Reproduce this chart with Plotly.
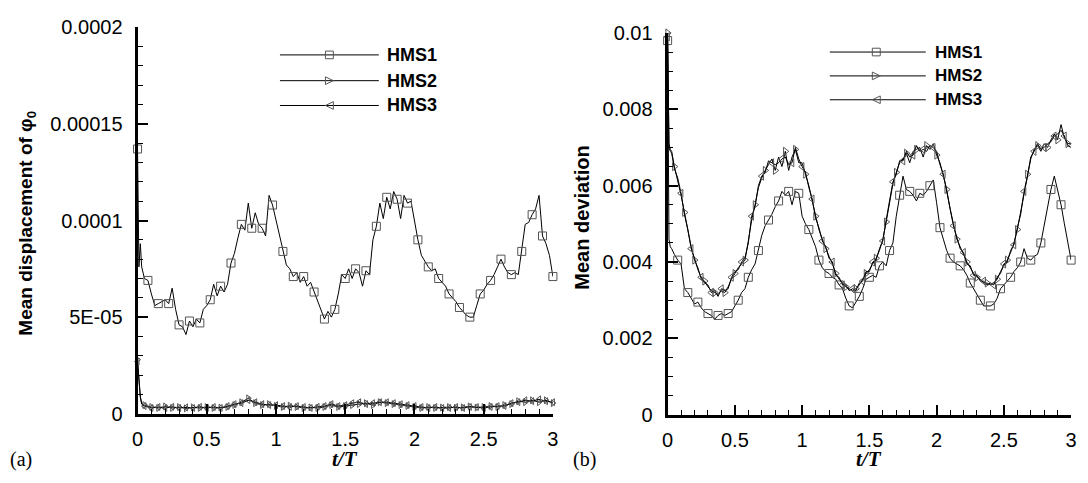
import plotly.graph_objects as go

W, H = 1088, 483

# Sampling times (t/T)
t_fine = [0, 0.005, 0.01, 0.02, 0.03] + [round(0.05 + 0.025 * i, 3) for i in range(119)]
t_coarse = [0, 0.01, 0.02, 0.03] + [round(0.05 + 0.05 * i, 3) for i in range(60)]

# (a) mean displacement of phi_0, in units of 1e-5
disp_hms1 = [13.7, 9.0, 7.6, 8.8, 7.6,
             7.0, 6.9, 6.2, 5.6, 5.7, 5.8, 5.9, 5.7, 6.5, 5.4, 4.6, 4.5, 4.1, 4.8, 4.5, 4.9,
             4.7, 5.4, 5.6, 5.9, 6.7, 6.1, 6.6, 6.3, 6.7, 7.8, 8.3, 9.1, 9.8, 9.5, 10.9, 9.6,
             10.4, 9.8, 9.6, 9.2, 11.3, 10.8, 10.0, 9.2, 8.4, 7.7, 7.5, 7.1, 7.3, 6.8, 7.1, 6.6,
             6.8, 6.3, 5.9, 5.3, 4.9, 5.3, 5.0, 5.4, 6.2, 7.2, 7.0, 7.5, 7.0, 7.5, 7.3, 6.6,
             7.4, 7.2, 9.0, 9.7, 10.9, 10.1, 11.2, 10.6, 11.5, 11.1, 10.1, 11.3, 10.9, 11.0, 9.9,
             9.0, 8.2, 7.9, 7.6, 7.4, 7.5, 7.0, 6.8, 6.6, 6.2, 6.0, 5.8, 5.5, 5.3, 5.1, 5.0,
             5.0, 5.6, 6.2, 6.4, 6.7, 6.9, 7.2, 7.6, 8.0, 7.6, 7.3, 7.2, 7.3, 7.2, 8.4, 9.8,
             9.9, 10.3, 10.6, 11.3, 9.2, 8.8, 8.2, 7.1]
disp_hms2 = [2.8, 1.6, 0.9, 0.55,
             0.45, 0.35, 0.3, 0.38, 0.3, 0.35, 0.28, 0.33, 0.3, 0.35, 0.3, 0.32, 0.35, 0.45,
             0.6, 0.8, 0.55, 0.45, 0.5, 0.4, 0.35, 0.42, 0.35, 0.3, 0.33, 0.3, 0.35, 0.45, 0.35,
             0.4, 0.45, 0.5, 0.55, 0.45, 0.6, 0.55, 0.5, 0.45, 0.4, 0.35, 0.3, 0.35, 0.3, 0.32,
             0.35, 0.3, 0.33, 0.38, 0.32, 0.35, 0.4, 0.35, 0.45, 0.5, 0.65, 0.6, 0.7, 0.6, 0.7,
             0.55]
disp_hms3 = [2.7, 1.5, 0.85, 0.5,
             0.4, 0.3, 0.35, 0.3, 0.36, 0.3, 0.33, 0.3, 0.36, 0.3, 0.35, 0.3, 0.4, 0.5, 0.55,
             0.7, 0.6, 0.5, 0.45, 0.45, 0.4, 0.35, 0.4, 0.35, 0.3, 0.36, 0.4, 0.5, 0.4, 0.45,
             0.55, 0.6, 0.5, 0.55, 0.6, 0.6, 0.55, 0.5, 0.45, 0.4, 0.35, 0.3, 0.35, 0.3, 0.3,
             0.35, 0.3, 0.35, 0.35, 0.3, 0.35, 0.4, 0.4, 0.55, 0.6, 0.7, 0.65, 0.75, 0.65, 0.6]

# (b) mean deviation, in units of 1e-3
dev_hms1 = [9.8, 6.0, 4.6, 4.4, 4.35,
            4.2, 4.05, 3.95, 3.3, 3.2, 3.05, 2.9, 2.95, 2.8, 2.7, 2.65, 2.6, 2.5, 2.6, 2.65,
            2.6, 2.65, 2.7, 2.85, 3.0, 3.2, 3.3, 3.6, 3.8, 3.95, 4.3, 4.7, 4.95, 5.1, 5.25,
            5.45, 5.6, 5.85, 5.75, 5.85, 5.5, 5.85, 5.8, 5.2, 5.0, 4.85, 4.6, 4.4, 4.05, 3.85,
            3.75, 3.7, 3.6, 3.55, 3.4, 3.3, 3.05, 2.85, 2.8, 2.95, 3.1, 3.3, 3.55, 3.6, 3.65,
            3.6, 3.9, 4.0, 3.9, 4.3, 4.5, 5.2, 5.75, 6.25, 5.9, 5.85, 5.75, 5.6, 5.8, 5.75,
            5.85, 6.0, 6.15, 5.55, 4.9, 4.6, 4.3, 4.1, 4.0, 3.95, 3.9, 3.8, 3.65, 3.45, 3.3,
            3.15, 3.0, 2.85, 2.85, 2.85, 2.9, 3.05, 3.3, 3.4, 3.5, 3.6, 3.75, 3.85, 4.0, 4.35,
            4.1, 4.05, 4.15, 4.2, 4.5, 5.0, 5.5, 5.9, 6.25, 5.9, 5.5, 5.0, 4.5, 4.05]
dev_hms2 = [10.0, 8.0, 7.1, 6.95, 6.9,
            6.5, 6.15, 5.75, 5.3, 4.8, 4.4, 4.05, 3.85, 3.55, 3.5, 3.35, 3.25, 3.2, 3.15, 3.25,
            3.2, 3.35, 3.55, 3.7, 3.85, 3.95, 4.05, 4.55, 5.1, 5.5, 5.95, 6.2, 6.4, 6.55, 6.7,
            6.4, 6.75, 6.5, 6.9, 6.4, 6.75, 6.95, 6.6, 6.6, 6.3, 6.0, 5.6, 5.2, 4.85, 4.6,
            4.35, 4.15, 3.95, 3.7, 3.55, 3.45, 3.35, 3.3, 3.25, 3.3, 3.4, 3.55, 3.7, 3.8, 3.95,
            4.1, 4.3, 4.6, 5.05, 5.6, 6.05, 6.35, 6.6, 6.7, 6.85, 6.6, 6.9, 6.95, 7.0, 6.75,
            7.05, 6.95, 7.1, 6.8, 6.6, 6.25, 5.9, 5.4, 5.0, 4.6, 4.4, 4.2, 4.0, 3.85, 3.7,
            3.6, 3.55, 3.45, 3.45, 3.4, 3.45, 3.55, 3.75, 3.9, 4.05, 4.25, 4.5, 4.85, 5.3,
            5.8, 6.3, 6.7, 6.95, 7.05, 6.9, 7.1, 7.0, 7.2, 7.35, 7.2, 7.6, 7.25, 7.1, 7.1]
dev_hms3 = [9.9, 7.6, 7.0, 6.9, 6.85,
            6.45, 6.2, 5.8, 5.25, 4.85, 4.35, 4.1, 3.8, 3.6, 3.45, 3.4, 3.2, 3.25, 3.1, 3.3,
            3.25, 3.3, 3.6, 3.75, 3.8, 4.0, 4.1, 4.5, 5.2, 5.45, 6.0, 6.25, 6.35, 6.65, 6.6,
            6.55, 6.6, 6.7, 6.75, 6.55, 6.6, 7.0, 6.7, 6.5, 6.35, 5.95, 5.65, 5.15, 4.9, 4.55,
            4.4, 4.1, 4.0, 3.65, 3.6, 3.4, 3.4, 3.25, 3.3, 3.25, 3.45, 3.5, 3.75, 3.75, 4.0,
            4.05, 4.35, 4.55, 5.1, 5.55, 6.1, 6.3, 6.65, 6.65, 6.9, 6.75, 6.8, 7.05, 6.9, 6.95,
            6.9, 7.05, 7.0, 6.9, 6.55, 6.3, 5.85, 5.45, 4.95, 4.65, 4.35, 4.25, 3.95, 3.9,
            3.65, 3.65, 3.5, 3.5, 3.4, 3.45, 3.4, 3.6, 3.7, 3.95, 4.0, 4.3, 4.45, 4.9, 5.25,
            5.85, 6.25, 6.75, 6.9, 7.1, 6.95, 7.0, 7.1, 7.15, 7.3, 7.35, 7.45, 7.3, 7.05, 7.0]

for s in (disp_hms1, dev_hms1, dev_hms2, dev_hms3):
    assert len(s) == len(t_fine), len(s)
for s in (disp_hms2, disp_hms3):
    assert len(s) == len(t_coarse), len(s)

series_names = ["HMS1", "HMS2", "HMS3"]
symbols = ["square-open", "triangle-right-open", "triangle-left-open"]

# axis ticks: major step, minor step, range top, label overrides
x_step, x_minor, x_top = 0.5, 0.1, 3
ya_step, ya_minor, ya_top = 5e-5, 1e-5, 2e-4
yb_step, yb_minor, yb_top = 0.002, 0.0005, 0.01
ya_alias = {"0.00005": "5E-05"}

SANS = "Liberation Sans, Arial, sans-serif"
SERIF = "Liberation Serif, Times New Roman, serif"
LINE = "#000000"
MARK = "#555555"


def px(x):
    return x / W


def py(y):
    return 1 - y / H


fig = go.Figure()


def add_series(t, vals, scale, symbol, xa, ya, step, offset, msize):
    y = [v * scale for v in vals]
    fig.add_trace(go.Scatter(x=t, y=y, mode="lines", xaxis=xa, yaxis=ya,
                             line=dict(color=LINE, width=1), showlegend=False,
                             hoverinfo="skip"))
    idx = [0] + list(range(offset, len(t), step))
    fig.add_trace(go.Scatter(x=[t[i] for i in idx], y=[y[i] for i in idx], mode="markers",
                             xaxis=xa, yaxis=ya, cliponaxis=False, showlegend=False,
                             marker=dict(symbol=symbol, size=msize, color=MARK,
                                         line=dict(width=1, color=MARK)),
                             hoverinfo="skip"))


# panel (a)
add_series(t_fine, disp_hms1, 1e-5, symbols[0], "x", "y", 3, 6, 8)
add_series(t_coarse, disp_hms2, 1e-5, symbols[1], "x", "y", 1, 4, 6)
add_series(t_coarse, disp_hms3, 1e-5, symbols[2], "x", "y", 1, 4, 6)
# panel (b)
add_series(t_fine, dev_hms1, 1e-3, symbols[0], "x2", "y2", 3, 6, 8)
add_series(t_fine, dev_hms2, 1e-3, symbols[1], "x2", "y2", 3, 5, 7)
add_series(t_fine, dev_hms3, 1e-3, symbols[2], "x2", "y2", 3, 7, 7)

# legend keys drawn as layout shapes and annotations
legends = [
    dict(x0=277, x1=377, xm=327, xt=383, ys=[46, 73, 99], size=18),
    dict(x0=833, x1=930, xm=880, xt=937, ys=[43, 68, 93], size=17),
]
shapes = []
annotations = []
for lg in legends:
    for name, sym, yy in zip(series_names, symbols, lg["ys"]):
        shapes.append(dict(type="line", xref="paper", yref="paper",
                           x0=px(lg["x0"]), x1=px(lg["x1"]), y0=py(yy), y1=py(yy),
                           line=dict(color=LINE, width=1)))
        r = 4
        if sym.startswith("square"):
            shapes.append(dict(type="rect", xref="paper", yref="paper",
                               x0=px(lg["xm"] - r), x1=px(lg["xm"] + r),
                               y0=py(yy + r), y1=py(yy - r),
                               line=dict(color=MARK, width=1), fillcolor="rgba(0,0,0,0)"))
        else:
            d = 1 if "right" in sym else -1
            path = "M %f %f L %f %f L %f %f Z" % (
                px(lg["xm"] - d * r), py(yy - r), px(lg["xm"] + d * r), py(yy),
                px(lg["xm"] - d * r), py(yy + r))
            shapes.append(dict(type="path", xref="paper", yref="paper", path=path,
                               line=dict(color=MARK, width=1)))
        annotations.append(dict(text="<b>%s</b>" % name, xref="paper", yref="paper",
                                x=px(lg["xt"]), y=py(yy), xanchor="left", yanchor="middle",
                                showarrow=False, font=dict(family=SANS, size=lg["size"],
                                                            color="black")))

# axis titles and panel labels
annotations += [
    dict(text="<b>Mean displacement of φ<sub>0</sub></b>", xref="paper", yref="paper",
         x=px(21), y=py(222), textangle=-90, showarrow=False, xanchor="center",
         yanchor="middle", font=dict(family=SANS, size=19, color="black")),
    dict(text="<b>Mean deviation</b>", xref="paper", yref="paper",
         x=px(583), y=py(217), textangle=-90, showarrow=False, xanchor="center",
         yanchor="middle", font=dict(family=SANS, size=20, color="black")),
    dict(text="<b><i>t/T</i></b>", xref="paper", yref="paper", x=px(343), y=py(469),
         showarrow=False, xanchor="center", yanchor="middle",
         font=dict(family=SERIF, size=21, color="black")),
    dict(text="<b><i>t/T</i></b>", xref="paper", yref="paper", x=px(873), y=py(469),
         showarrow=False, xanchor="center", yanchor="middle",
         font=dict(family=SERIF, size=21, color="black")),
    dict(text="(a)", xref="paper", yref="paper", x=px(2), y=py(470),
         showarrow=False, xanchor="left", yanchor="middle",
         font=dict(family=SERIF, size=20, color="black")),
    dict(text="(b)", xref="paper", yref="paper", x=px(571), y=py(470),
         showarrow=False, xanchor="left", yanchor="middle",
         font=dict(family=SERIF, size=20, color="black")),
]

tickfont = dict(family=SANS, size=20, color="black")


def axis(domain, anchor, top, step, minor, standoff, **extra):
    return dict(domain=domain, anchor=anchor, range=[0, top], tickmode="linear", tick0=0,
                dtick=step, showgrid=False, zeroline=False, showline=True,
                linecolor="black", linewidth=3, ticks="inside", ticklen=10, tickwidth=2,
                tickcolor="black", tickfont=tickfont, exponentformat="none",
                ticklabelstandoff=standoff,
                minor=dict(ticks="inside", ticklen=5, tickwidth=1, tickcolor="black",
                           tickmode="linear", tick0=0, dtick=minor, showgrid=False),
                **extra)


fig.update_layout(
    width=W, height=H, margin=dict(l=0, r=0, t=0, b=0),
    paper_bgcolor="white", plot_bgcolor="white", showlegend=False,
    xaxis=axis([px(133), px(553)], "y", x_top, x_step, x_minor, 5),
    yaxis=axis([py(422), py(17)], "x", ya_top, ya_step, ya_minor, 8, labelalias=ya_alias),
    xaxis2=axis([px(669), px(1077)], "y2", x_top, x_step, x_minor, 5),
    yaxis2=axis([py(423), py(23)], "x2", yb_top, yb_step, yb_minor, 8),
    shapes=shapes, annotations=annotations,
)

fig.write_html("out.html")
